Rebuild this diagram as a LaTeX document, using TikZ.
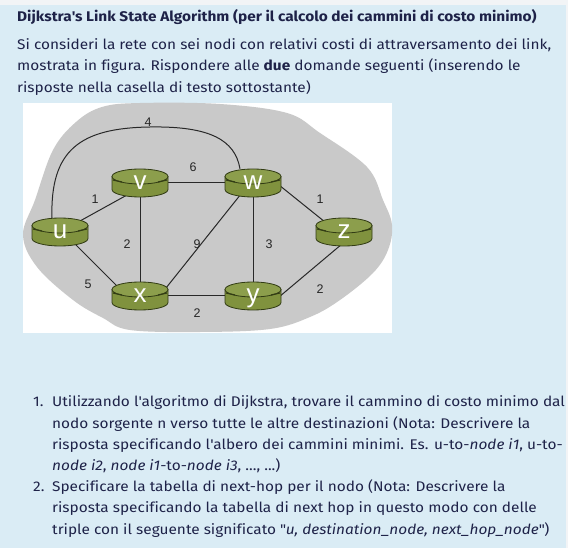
\documentclass[tikz,border=0pt]{standalone}
\usepackage{fontspec}
\setmainfont[FakeStretch=1.1, Ligatures=NoCommon]{Fira Sans}
\newfontfamily\routerfont{Liberation Sans}
\usetikzlibrary{calc}
\definecolor{bgblue}{RGB}{218,236,245}
\definecolor{strip}{RGB}{242,244,246}
\definecolor{txt}{RGB}{30,34,72}
\definecolor{blobc}{RGB}{201,201,201}
\definecolor{cyltop}{RGB}{140,158,76}
\definecolor{cylside}{RGB}{128,146,62}
\definecolor{cyledge}{RGB}{50,60,20}
\definecolor{edgec}{RGB}{40,40,40}
\pgfdeclarelayer{bg}\pgfdeclarelayer{edges}\pgfdeclarelayer{cyl}
\pgfsetlayers{bg,edges,cyl,main}
\tikzset{
  router/.style={rectangle, minimum width=56pt, minimum height=28pt, inner sep=0pt,
    text=white, font=\routerfont\fontsize{26}{26}\selectfont, text height=13.5pt, text depth=0pt},
  edge/.style={draw=edgec, line width=1pt},
  cost/.style={inner sep=0pt, text=black!85, font=\routerfont\fontsize{12.5}{13}\selectfont},
  txtline/.style={anchor=base west, inner sep=0pt, text=txt, font=\fontsize{14}{16}\selectfont}
}
\begin{document}
\begin{tikzpicture}[x=1pt,y=-1pt]
\useasboundingbox (0,0) rectangle (568,548);
\begin{pgfonlayer}{bg}
  \fill[bgblue] (0,0) rectangle (568,548);
  \fill[strip] (0,0) rectangle (568,5);
  \fill[strip] (566,0) rectangle (568,548);
  \fill[white] (23,103) rectangle (392,333);
  \begin{scope}
    \clip (23,103) rectangle (392,333);
    \fill[blobc] plot[smooth cycle, tension=0.6] coordinates {
      (53,150) (76,122) (102,107) (140,103) (220,104) (287,113) (320,133)
      (367,167) (383,200) (392,225) (388,250) (373,273) (340,300) (310,317)
      (270,329) (200,332) (130,330) (103,318) (73,300) (37,267) (23,235) (35,200)};
  \end{scope}
\end{pgfonlayer}

% routers
\node[router] (u) at (60,232) {u};
\node[router] (v) at (140,183) {v};
\node[router] (w) at (253,183) {w};
\node[router] (z) at (344,232) {z};
\node[router] (x) at (140,296) {x};
\node[router] (y) at (253,296) {y};

\begin{pgfonlayer}{cyl}
\foreach \n in {u,v,w,z,x,y}{
  \begin{scope}[shift={(\n.center)}]
    \filldraw[fill=cylside, draw=cyledge, line width=0.8pt]
      (-28,-6.5) -- (-28,6.5) arc[start angle=180, end angle=360, x radius=28pt, y radius=7.5pt]
      -- (28,-6.5) -- cycle;
    \filldraw[fill=cyltop, draw=cyledge, line width=0.8pt] (0,-6.5) ellipse[x radius=28pt, y radius=7.5pt];
    \draw[cyledge, line width=1.2pt] (-27,-3) -- (-18,-1);
    \draw[cyledge, line width=1.2pt] (18,-1) -- (27,-3);
  \end{scope}
}
\end{pgfonlayer}

\begin{pgfonlayer}{edges}
  \draw[edge] ([xshift=-8pt]u.north) .. controls (50,150) and (80,128) .. (150,127)
     .. controls (210,126) and (235,140) .. ([xshift=-13pt]w.north);
  \draw[edge] ($(u.center)+(20,-11)$) -- ($(v.center)+(-13,12)$);
  \draw[edge] ($(u.center)+(14,11)$) -- ($(x.center)+(-22,-9)$);
  \draw[edge] (v) -- (w);
  \draw[edge] (v) -- (x);
  \draw[edge] ($(x.center)+(22,-3)$) -- ($(w.center)+(-12,11)$);
  \draw[edge] (w) -- (y);
  \draw[edge] ($(w.center)+(26,2)$) -- ($(z.center)+(-19,-10)$);
  \draw[edge] (x) -- (y);
  \draw[edge] ($(y.center)+(26,1)$) -- ($(z.center)+(-2,12)$);
\end{pgfonlayer}

% costs
\node[cost] (c4) at (148,122) {4};
\node[cost] (c6) at (193,167) {6};
\node[cost] (c1a) at (95,199) {1};
\node[cost] (c1b) at (320,199) {1};
\node[cost] (c2a) at (127,244) {2};
\node[cost] (c9) at (197,244) {9};
\node[cost] (c3) at (269,244) {3};
\node[cost] (c5) at (88,284) {5};
\node[cost] (c2b) at (320,289) {2};
\node[cost] (c2c) at (197,313) {2};

% text
\node[txtline, font=\fontsize{14}{16}\selectfont\bfseries] (title) at (17,21.5)
  {Dijkstra\textquotesingle s Link State Algorithm (per il calcolo dei cammini di costo minimo)};
\node[txtline] (p1) at (17,49.5) {Si consideri la rete con sei nodi con relativi costi di attraversamento dei link,};
\node[txtline] (p2) at (17,71) {mostrata in figura. Rispondere alle \textbf{due} domande seguenti (inserendo le};
\node[txtline] (p3) at (17,92.5) {risposte nella casella di testo sottostante)};

\node[txtline] (n1) at (33,406.5) {1.};
\node[txtline] (l1) at (52,406.5) {Utilizzando l\textquotesingle algoritmo di Dijkstra, trovare il cammino di costo minimo dal};
\node[txtline] (l2) at (52,428) {nodo sorgente n verso tutte le altre destinazioni (Nota: Descrivere la};
\node[txtline] (l3) at (52,449) {risposta specificando l\textquotesingle albero dei cammini minimi. Es. u-to-\textit{node i1}, u-to-};
\node[txtline] (l4) at (52,470) {\textit{node i2}, \textit{node i1}-to-\textit{node i3}, {.}{.}{.}, {.}{.}{.})};
\node[txtline] (n2) at (33,491) {2.};
\node[txtline] (l5) at (52,491) {Specificare la tabella di next-hop per il nodo (Nota: Descrivere la};
\node[txtline] (l6) at (52,512.5) {risposta specificando la tabella di next hop in questo modo con delle};
\node[txtline] (l7) at (52,534) {triple con il seguente significato \textquotedbl\textit{u, destination\_node, next\_hop\_node}\textquotedbl)};
\end{tikzpicture}
\end{document}
